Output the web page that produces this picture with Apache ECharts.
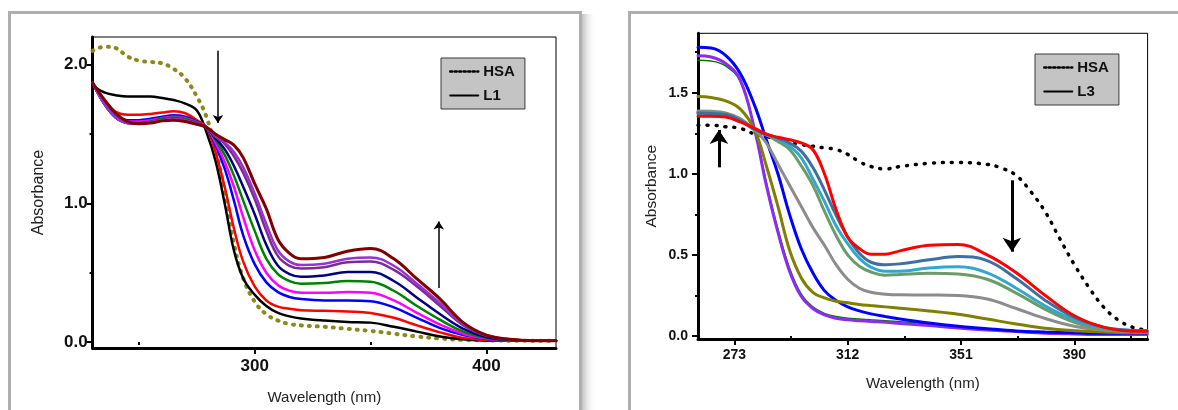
<!DOCTYPE html>
<html>
<head>
<meta charset="utf-8">
<script src="https://cdn.jsdelivr.net/npm/echarts@6/dist/echarts.min.js"></script>
<style>
  html, body { margin: 0; background: #fff; }
  #chart { width: 1178px; height: 410px; }
</style>
</head>
<body>
<div id="chart"></div>
<script>
// ---- left panel (L1) ----
const leftWl = [230, 235, 240, 245, 250, 255, 260, 265, 270, 275, 279, 283, 287, 291, 295, 300, 305, 310, 315, 320, 330, 340, 350, 360, 370, 380, 390, 400, 410, 420, 430];
const hsaLeft = [2.10, 2.13, 2.12, 2.06, 2.03, 2.02, 2.01, 1.97, 1.90, 1.77, 1.63, 1.40, 1.08, 0.71, 0.46, 0.29, 0.20, 0.155, 0.13, 0.12, 0.11, 0.095, 0.08, 0.06, 0.04, 0.025, 0.015, 0.012, 0.01, 0.01, 0.01];
const l1Black = [1.85, 1.80, 1.78, 1.77, 1.77, 1.77, 1.76, 1.745, 1.72, 1.67, 1.52, 1.31, 1.00, 0.66, 0.46, 0.34, 0.26, 0.21, 0.185, 0.17, 0.155, 0.145, 0.14, 0.11, 0.075, 0.04, 0.02, 0.01, 0.01, 0.01, 0.01];
const l1Red = [1.87, 1.74, 1.66, 1.64, 1.64, 1.645, 1.655, 1.665, 1.65, 1.60, 1.55, 1.37, 1.12, 0.82, 0.58, 0.40, 0.30, 0.255, 0.24, 0.23, 0.225, 0.22, 0.21, 0.175, 0.12, 0.07, 0.03, 0.015, 0.01, 0.01, 0.01];
const l1Blue = [1.87, 1.73, 1.64, 1.60, 1.60, 1.61, 1.625, 1.635, 1.625, 1.59, 1.55, 1.42, 1.25, 1.02, 0.77, 0.56, 0.43, 0.36, 0.325, 0.31, 0.30, 0.30, 0.295, 0.25, 0.175, 0.10, 0.05, 0.022, 0.012, 0.01, 0.01];
const l1Magenta = [1.87, 1.72, 1.63, 1.59, 1.59, 1.60, 1.615, 1.625, 1.615, 1.585, 1.55, 1.44, 1.30, 1.12, 0.90, 0.66, 0.50, 0.41, 0.37, 0.355, 0.355, 0.36, 0.355, 0.30, 0.21, 0.125, 0.06, 0.025, 0.012, 0.01, 0.01];
const l1Green = [1.87, 1.72, 1.62, 1.585, 1.58, 1.59, 1.61, 1.62, 1.61, 1.58, 1.55, 1.46, 1.35, 1.20, 1.02, 0.80, 0.60, 0.49, 0.44, 0.42, 0.425, 0.44, 0.435, 0.37, 0.26, 0.16, 0.075, 0.03, 0.014, 0.01, 0.01];
const l1Navy = [1.87, 1.72, 1.62, 1.58, 1.575, 1.585, 1.60, 1.61, 1.60, 1.575, 1.55, 1.47, 1.39, 1.27, 1.12, 0.92, 0.70, 0.55, 0.49, 0.47, 0.48, 0.505, 0.505, 0.44, 0.32, 0.20, 0.095, 0.035, 0.015, 0.01, 0.01];
const l1Purple = [1.87, 1.72, 1.62, 1.58, 1.575, 1.585, 1.60, 1.605, 1.595, 1.57, 1.55, 1.48, 1.43, 1.34, 1.22, 1.03, 0.80, 0.62, 0.55, 0.53, 0.54, 0.575, 0.58, 0.52, 0.40, 0.26, 0.12, 0.045, 0.018, 0.01, 0.01];
const l1Violet = [1.87, 1.72, 1.62, 1.58, 1.575, 1.585, 1.60, 1.61, 1.60, 1.575, 1.55, 1.49, 1.44, 1.37, 1.26, 1.07, 0.85, 0.66, 0.58, 0.555, 0.565, 0.60, 0.61, 0.55, 0.42, 0.28, 0.13, 0.05, 0.02, 0.01, 0.01];
const l1Maroon = [1.87, 1.75, 1.65, 1.59, 1.575, 1.58, 1.595, 1.60, 1.59, 1.57, 1.55, 1.50, 1.46, 1.42, 1.33, 1.14, 0.96, 0.74, 0.64, 0.60, 0.61, 0.655, 0.675, 0.60, 0.455, 0.31, 0.14, 0.05, 0.02, 0.01, 0.01];
const leftXLabels = [300, 400];
const leftXMinor = [250, 350];
const leftYLabels = [0, 1, 2];
const leftYMinor = [0.5, 1.5];
// arrows [x0, y0, x1, y1] in data units
const leftArrows = [[284.1, 2.10, 284.1, 1.58], [379.4, 0.39, 379.4, 0.87]];

// ---- right panel (L3) ----
const hsaRightWl = [260.5, 265, 270, 275, 280, 284, 288, 292, 296, 300, 304, 308, 312, 316, 320, 325, 330, 340, 350, 360, 365, 370, 375, 380, 385, 390, 395, 400, 405, 410, 415];
const hsaRight = [1.30, 1.30, 1.29, 1.28, 1.245, 1.23, 1.215, 1.20, 1.18, 1.17, 1.16, 1.15, 1.12, 1.075, 1.045, 1.03, 1.045, 1.065, 1.07, 1.058, 1.035, 0.99, 0.89, 0.765, 0.60, 0.44, 0.30, 0.18, 0.10, 0.055, 0.035];
const rightWl = [260.5, 265, 270, 275, 280, 284, 288, 292, 296, 300, 304, 308, 312, 316, 320, 325, 330, 340, 350, 360, 370, 380, 390, 400, 410, 415];
const l3Blue = [1.78, 1.775, 1.73, 1.62, 1.42, 1.21, 1.00, 0.75, 0.54, 0.39, 0.28, 0.22, 0.18, 0.155, 0.137, 0.12, 0.105, 0.08, 0.06, 0.045, 0.032, 0.025, 0.02, 0.017, 0.017, 0.017];
const l3Violet = [1.728, 1.72, 1.68, 1.58, 1.27, 0.93, 0.64, 0.40, 0.245, 0.17, 0.13, 0.11, 0.10, 0.095, 0.09, 0.085, 0.078, 0.065, 0.05, 0.038, 0.028, 0.018, 0.013, 0.01, 0.01, 0.01];
const l3Green = [1.70, 1.695, 1.665, 1.57, 1.28, 0.95, 0.66, 0.42, 0.26, 0.18, 0.14, 0.12, 0.11, 0.105, 0.10, 0.095, 0.088, 0.075, 0.06, 0.045, 0.033, 0.022, 0.015, 0.012, 0.01, 0.01];
const l3Olive = [1.476, 1.47, 1.45, 1.40, 1.27, 1.05, 0.80, 0.53, 0.36, 0.27, 0.235, 0.215, 0.205, 0.195, 0.188, 0.18, 0.172, 0.155, 0.135, 0.105, 0.075, 0.048, 0.033, 0.025, 0.02, 0.02];
const l3Gray = [1.387, 1.385, 1.375, 1.34, 1.27, 1.19, 1.06, 0.93, 0.80, 0.67, 0.56, 0.44, 0.35, 0.295, 0.27, 0.258, 0.254, 0.253, 0.25, 0.228, 0.17, 0.108, 0.06, 0.037, 0.027, 0.025];
const l3GrayGreen = [1.38, 1.378, 1.37, 1.33, 1.27, 1.24, 1.20, 1.15, 1.05, 0.93, 0.77, 0.62, 0.50, 0.43, 0.395, 0.375, 0.38, 0.387, 0.383, 0.35, 0.265, 0.165, 0.085, 0.045, 0.032, 0.03];
const l3LightBlue = [1.372, 1.37, 1.362, 1.33, 1.27, 1.245, 1.215, 1.17, 1.10, 0.97, 0.83, 0.68, 0.57, 0.48, 0.425, 0.40, 0.40, 0.42, 0.427, 0.39, 0.295, 0.185, 0.10, 0.05, 0.035, 0.033];
const l3Steel = [1.375, 1.372, 1.365, 1.33, 1.275, 1.245, 1.22, 1.19, 1.14, 1.04, 0.90, 0.745, 0.61, 0.51, 0.455, 0.44, 0.445, 0.47, 0.49, 0.465, 0.355, 0.22, 0.115, 0.055, 0.035, 0.033];
const l3Red = [1.355, 1.355, 1.35, 1.32, 1.28, 1.245, 1.225, 1.21, 1.19, 1.15, 1.00, 0.78, 0.61, 0.54, 0.505, 0.505, 0.525, 0.56, 0.565, 0.50, 0.39, 0.25, 0.125, 0.055, 0.03, 0.03];
const rightXLabels = [273, 312, 351, 390];
const rightXMinor = [292.5, 331.5, 370.5, 409.5];
const rightYLabels = [0, 0.5, 1, 1.5];
const rightYMinor = [0.25, 0.75, 1.25, 1.75];
const rightArrows = [[267.7, 1.04, 267.7, 1.27], [368.5, 0.96, 368.5, 0.52]];

const FONT = '"Liberation Sans", Arial, sans-serif';
const pairs = (xs, ys) => xs.map((x, i) => [x, ys[i]]);

const chart = echarts.init(document.getElementById('chart'));

function mainAxis(grid, min, max, labels, size, margin, name, gap, nameSize, fmt) {
  return {
    type: 'value', gridIndex: grid, min: min, max: max,
    axisLine: { show: true, onZero: false, lineStyle: { color: '#000', width: 3 } },
    axisTick: { show: true, customValues: labels, length: 6, lineStyle: { color: '#000', width: 2 } },
    axisLabel: { customValues: labels, formatter: fmt, fontFamily: FONT, fontWeight: 'bold',
      fontSize: size, color: '#111', margin: margin },
    splitLine: { show: false },
    name: name, nameLocation: 'middle', nameGap: gap,
    nameTextStyle: { fontFamily: FONT, fontSize: nameSize, color: '#222' }
  };
}
function minorAxis(grid, min, max, ticks, pos) {
  return {
    type: 'value', gridIndex: grid, min: min, max: max, position: pos,
    axisLine: { show: false },
    axisTick: { show: true, customValues: ticks, length: 3, lineStyle: { color: '#000', width: 2 } },
    axisLabel: { show: false }, splitLine: { show: false }
  };
}
function line(name, xs, ys, color, width, xi, yi, type) {
  return {
    name: name, type: 'line', xAxisIndex: xi, yAxisIndex: yi,
    data: pairs(xs, ys), smooth: 0.4, symbol: 'none',
    lineStyle: { color: color, width: width, type: type || 'solid', cap: 'round' },
    itemStyle: { color: color }
  };
}
function arrows(list, width, size) {
  return {
    silent: true, symbol: ['none', 'arrow'], symbolSize: size, label: { show: false },
    lineStyle: { color: '#000', width: width, type: 'solid' },
    emphasis: { disabled: true },
    data: list.map(a => [{ coord: [a[0], a[1]] }, { coord: [a[2], a[3]] }])
  };
}
const fmt1 = v => v.toFixed(1);
const fmt0 = v => String(v);

const leftSeries = [
  line('HSA', leftWl, hsaLeft, '#8a8a1c', 4, 0, 0, [1, 7]),
  line('L1', leftWl, l1Black, '#000000', 2.5, 0, 0),
  line('L1 a', leftWl, l1Red, '#ff0000', 2.5, 0, 0),
  line('L1 b', leftWl, l1Blue, '#0000ff', 2.5, 0, 0),
  line('L1 c', leftWl, l1Magenta, '#ff00ff', 2.5, 0, 0),
  line('L1 d', leftWl, l1Green, '#008000', 2.5, 0, 0),
  line('L1 e', leftWl, l1Navy, '#000080', 2.5, 0, 0),
  line('L1 f', leftWl, l1Purple, '#7b2a9a', 2.5, 0, 0),
  line('L1 g', leftWl, l1Violet, '#9932cc', 2.5, 0, 0),
  line('L1 h', leftWl, l1Maroon, '#800000', 3, 0, 0)
];
leftSeries[1].markLine = arrows(leftArrows, 1.5, 8);

const rightSeries = [
  line('HSA', hsaRightWl, hsaRight, '#000000', 3.5, 2, 2, [1, 8]),
  line('R b', rightWl, l3Green, '#007800', 1.5, 2, 2),
  line('R c', rightWl, l3Violet, '#8c2cf0', 3, 2, 2),
  line('R a', rightWl, l3Blue, '#0000ff', 3, 2, 2),
  line('R d', rightWl, l3Olive, '#808000', 3, 2, 2),
  line('R e', rightWl, l3Gray, '#8c8c8c', 3, 2, 2),
  line('R f', rightWl, l3GrayGreen, '#6b9a6b', 3, 2, 2),
  line('R g', rightWl, l3LightBlue, '#33a6cc', 3, 2, 2),
  line('R h', rightWl, l3Steel, '#3d6f9f', 3, 2, 2),
  line('L3', rightWl, l3Red, '#ff0000', 3, 2, 2)
];
rightSeries[0].markLine = arrows(rightArrows, 3, 14);

function legendBox(left, top, names, size) {
  return {
    orient: 'vertical', left: left, top: top, selectedMode: false,
    backgroundColor: '#c4c4c4', borderColor: '#3a3a3a', borderWidth: 1, borderRadius: 0,
    padding: [6, 10, 6, 8], itemGap: 9, itemWidth: 28, itemHeight: 12,
    textStyle: { fontFamily: FONT, fontWeight: 'bold', fontSize: size, color: '#111' },
    data: [
      { name: names[0], lineStyle: { color: '#000', type: [2, 2.5], width: 2.5 }, itemStyle: { color: '#000', opacity: 0 } },
      { name: names[1], lineStyle: { color: '#000', type: 'solid', width: 2 }, itemStyle: { color: '#000', opacity: 0 } }
    ]
  };
}

const option = {
  animation: false,
  backgroundColor: '#fff',
  graphic: [
    { type: 'rect', shape: { x: 9.5, y: 12.5, width: 571, height: 420 }, style: { fill: 'none', stroke: '#aeaeae', lineWidth: 3 }, silent: true, z: -10 },
    { type: 'rect', shape: { x: 582, y: 14, width: 14, height: 400 }, silent: true, z: -10,
      style: { fill: new echarts.graphic.LinearGradient(0, 0, 1, 0, [{ offset: 0, color: 'rgba(150,150,150,0.6)' }, { offset: 1, color: 'rgba(255,255,255,0)' }]) } },
    { type: 'rect', shape: { x: 629.5, y: 12.5, width: 600, height: 420 }, style: { fill: 'none', stroke: '#aeaeae', lineWidth: 3 }, silent: true, z: -10 }
  ],
  grid: [
    { left: 92.6, top: 37, width: 463.4, height: 311, show: true, borderColor: '#000', borderWidth: 1, backgroundColor: 'transparent' },
    { left: 698, top: 33.3, width: 449.6, height: 305.7, show: true, borderColor: '#000', borderWidth: 1, backgroundColor: 'transparent' }
  ],
  xAxis: [
    mainAxis(0, 230, 430, leftXLabels, 17, 10, 'Wavelength (nm)', 42, 15, fmt0),
    minorAxis(0, 230, 430, leftXMinor, 'bottom'),
    mainAxis(1, 260.5, 415.2, rightXLabels, 14, 9, 'Wavelength (nm)', 37, 15, fmt0),
    minorAxis(1, 260.5, 415.2, rightXMinor, 'bottom')
  ],
  yAxis: [
    mainAxis(0, -0.043, 2.2, leftYLabels, 17, 5, 'Absorbance', 46, 16, fmt1),
    minorAxis(0, -0.043, 2.2, leftYMinor, 'left'),
    mainAxis(1, -0.018, 1.866, rightYLabels, 14, 10, 'Absorbance', 38, 15.5, fmt1),
    minorAxis(1, -0.018, 1.866, rightYMinor, 'left')
  ],
  legend: [
    legendBox(441, 58, ['HSA', 'L1'], 15),
    legendBox(1035, 54, ['HSA', 'L3'], 15)
  ],
  series: leftSeries.concat(rightSeries)
};
chart.setOption(option);
</script>
</body>
</html>
